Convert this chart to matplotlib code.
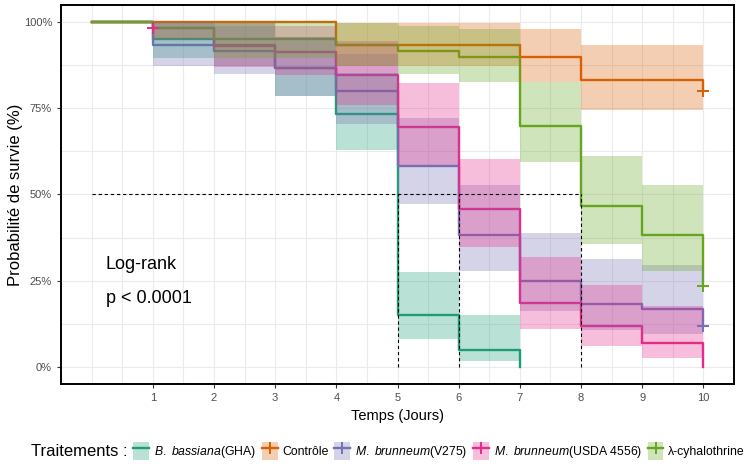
import numpy as np
import matplotlib
matplotlib.use('Agg')
import matplotlib.pyplot as plt
from matplotlib.patches import Patch
from matplotlib.lines import Line2D
from matplotlib.legend_handler import HandlerTuple

# Kaplan-Meier survival per treatment (one value per day)
groups = ['B. bassiana(GHA)', 'Contrôle', 'M. brunneum(V275)',
          'M. brunneum(USDA 4556)', 'λ-cyhalothrine']
colors = ['#1B9E77', '#D95F02', '#7570B3', '#E7298A', '#66A61E']

t_bb = [0, 1, 2, 3, 4, 5, 6, 7]
s_bb = [1, 0.950, 0.933, 0.867, 0.733, 0.150, 0.050, 0]
lo_bb = [1, 0.896, 0.872, 0.785, 0.630, 0.082, 0.017, 0]
hi_bb = [1, 1, 0.999, 0.957, 0.854, 0.274, 0.151, 0]

t_ctl = [0, 1, 2, 3, 4, 5, 6, 7, 8, 9, 10]
s_ctl = [1, 1, 1, 1, 0.933, 0.933, 0.933, 0.900, 0.833, 0.833, 0.800]
lo_ctl = [1, 1, 1, 1, 0.872, 0.872, 0.872, 0.827, 0.744, 0.744, 0.800]
hi_ctl = [1, 1, 1, 1, 0.999, 0.999, 0.999, 0.979, 0.933, 0.933, 0.800]

t_v275 = [0, 1, 2, 3, 4, 5, 6, 7, 8, 9, 10]
s_v275 = [1, 0.933, 0.917, 0.867, 0.800, 0.583, 0.383, 0.250, 0.183, 0.167, 0.117]
lo_v275 = [1, 0.872, 0.849, 0.785, 0.705, 0.471, 0.278, 0.161, 0.108, 0.095, 0.117]
hi_v275 = [1, 0.999, 0.989, 0.957, 0.908, 0.722, 0.528, 0.388, 0.313, 0.294, 0.117]

t_usda = [0, 1, 2, 3, 4, 5, 6, 7, 8, 9, 10]
s_usda = [1, 0.983, 0.932, 0.915, 0.848, 0.695, 0.458, 0.186, 0.119, 0.068, 0]
lo_usda = [1, 0.952, 0.871, 0.847, 0.761, 0.587, 0.347, 0.109, 0.059, 0.026, 0]
hi_usda = [1, 1, 0.999, 0.989, 0.945, 0.823, 0.604, 0.318, 0.238, 0.175, 0]

t_lc = [0, 1, 2, 3, 4, 5, 6, 7, 8, 9, 10]
s_lc = [1, 0.983, 0.950, 0.950, 0.933, 0.917, 0.900, 0.700, 0.467, 0.383, 0.233]
lo_lc = [1, 0.952, 0.896, 0.896, 0.872, 0.849, 0.827, 0.593, 0.356, 0.278, 0.233]
hi_lc = [1, 1, 1, 1, 0.999, 0.989, 0.979, 0.826, 0.612, 0.528, 0.233]

# censored observations (time, survival) per group
cens_t = [[], [10], [10], [1], [10]]
cens_s = [[], [0.800], [0.117], [0.983], [0.233]]

# median survival times (dashed guide lines)
medians = [5, 6, 8]

series = [(t_bb, s_bb, lo_bb, hi_bb), (t_ctl, s_ctl, lo_ctl, hi_ctl),
          (t_v275, s_v275, lo_v275, hi_v275), (t_usda, s_usda, lo_usda, hi_usda),
          (t_lc, s_lc, lo_lc, hi_lc)]

plt.rcParams['font.family'] = ['Liberation Sans', 'DejaVu Sans']
plt.rcParams['mathtext.fontset'] = 'custom'
plt.rcParams['mathtext.rm'] = 'Liberation Sans'
plt.rcParams['mathtext.it'] = 'Liberation Sans:italic'

fig = plt.figure(figsize=(7.5, 4.71), dpi=100)
ax = fig.add_axes([61 / 750, 87 / 471, 673 / 750, 379 / 471])

# lines first, ribbons drawn over them (as in ggsurvplot)
for (t, s, lo, hi), c in zip(series, colors):
    ax.step(t, s, where='post', color=c, lw=1.7, zorder=3)
for (t, s, lo, hi), c in zip(series, colors):
    ax.fill_between(t, lo, hi, step='post', color=c, alpha=0.3, lw=0, zorder=4)
for ct, cs, c in zip(cens_t, cens_s, colors):
    if ct:
        ax.plot(ct, cs, ls='none', marker='+', ms=8, mew=1.4, color=c, zorder=5)

# median lines
ax.plot([0, max(medians)], [0.5, 0.5], color='black', lw=0.8, ls=(0, (3, 2.5)), zorder=6)
for m in medians:
    ax.plot([m, m], [0, 0.5], color='black', lw=0.8, ls=(0, (3, 2.5)), zorder=6)

ax.text(0.23, 0.297, 'Log-rank', fontsize=13, va='center')
ax.text(0.23, 0.199, 'p < 0.0001', fontsize=13, va='center')

ax.set_xlim(-0.5, 10.5)
ax.set_ylim(-0.05, 1.05)
ax.set_xticks(range(1, 11))
ax.set_xticks(np.arange(0, 10.51, 0.5), minor=True)
ax.set_yticks([0, 0.25, 0.5, 0.75, 1])
ax.set_yticklabels(['0%', '25%', '50%', '75%', '100%'])
ax.set_yticks(np.arange(0, 1.01, 0.125), minor=True)
ax.tick_params(which='major', length=3, width=0.8, color='#333333',
               labelcolor='#4D4D4D', labelsize=8)
ax.tick_params(which='minor', length=0)
ax.grid(which='both', color='#EBEBEB', lw=0.8)
ax.set_axisbelow(True)
for sp in ax.spines.values():
    sp.set_color('black')
    sp.set_linewidth(1.4)

ax.set_xlabel('Temps (Jours)', fontsize=10.5, labelpad=4)
ax.set_ylabel('Probabilité de survie (%)', fontsize=12)
ax.yaxis.set_label_coords(-0.056, 0.5)

# legend
labels = [r'$\mathit{B.}$ $\mathit{bassiana}$(GHA)', 'Contrôle',
          r'$\mathit{M.}$ $\mathit{brunneum}$(V275)',
          r'$\mathit{M.}$ $\mathit{brunneum}$(USDA 4556)', 'λ-cyhalothrine']
handles = []
for i, c in enumerate(colors):
    mk = '+' if cens_t[i] else 'None'
    handles.append((Patch(facecolor=c, alpha=0.3, edgecolor='none'),
                    Line2D([], [], color=c, lw=1.7, marker=mk, ms=8, mew=1.4)))

leg = fig.legend(handles, labels, handler_map={tuple: HandlerTuple(ndivide=1)},
                 loc='center right', bbox_to_anchor=(745 / 750, 20 / 471), ncol=5,
                 frameon=False, handlelength=1.3, handleheight=1.9, handletextpad=0.4,
                 columnspacing=0.45, borderaxespad=0, borderpad=0,
                 prop={'size': 8.8})
fig.canvas.draw()
bb = leg.get_window_extent()
fig.text((bb.x0 - 6) / 750, 20 / 471, 'Traitements :', fontsize=12,
         ha='right', va='center')

fig.savefig('out.png', dpi=100)
